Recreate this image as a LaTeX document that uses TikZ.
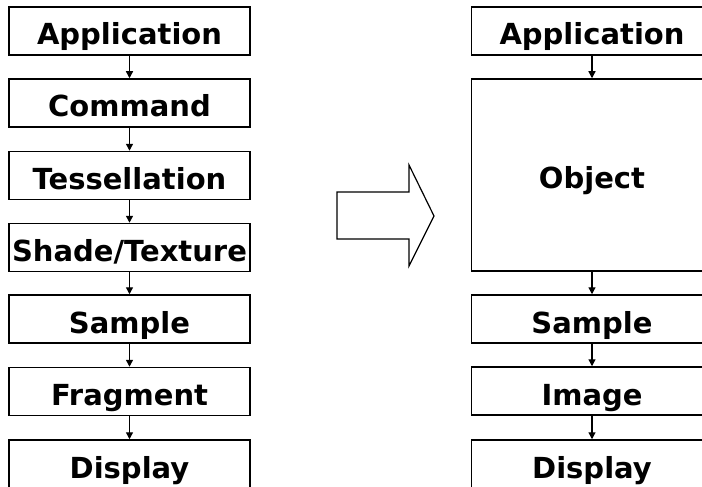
\documentclass[tikz,border=0pt]{standalone}
\usepackage{fontspec}
\setmainfont{DejaVu Sans}
\usetikzlibrary{arrows.meta}
\begin{document}
\begin{tikzpicture}[x=1pt,y=-1pt,
  stage/.style={draw,line width=1.5pt,minimum width=241pt,inner sep=0pt,
    text height=38pt,text depth=10pt,
    font=\fontsize{29}{32}\selectfont\bfseries},
  flow/.style={line width=1.3pt,-{Triangle[length=7pt,width=7pt]}}]
\useasboundingbox (0,0) rectangle (702,487);
\clip (0,0) rectangle (702,487);
% left column
\node[stage] (a1) at (129.5,31) {Application};
\node[stage] (a2) at (129.5,103) {Command};
\node[stage] (a3) at (129.5,175.5) {Tessellation};
\node[stage] (a4) at (129.5,247.5) {Shade/Texture};
\node[stage] (a5) at (129.5,319) {Sample};
\node[stage] (a6) at (129.5,391.5) {Fragment};
\node[stage] (a7) at (129.5,464) {Display};
\foreach \i/\j in {a1/a2,a2/a3,a3/a4,a4/a5,a5/a6,a6/a7}
  \draw[flow] (\i.south) -- (\j.north);
% right column
\node[stage] (b1) at (592,31) {Application};
\node[stage,text height=109pt,text depth=83pt] (b2) at (592,175) {Object};
\node[stage] (b3) at (592,319) {Sample};
\node[stage] (b4) at (592,391) {Image};
\node[stage] (b5) at (592,464) {Display};
\foreach \i/\j in {b1/b2,b2/b3,b3/b4,b4/b5}
  \draw[flow] (\i.south) -- (\j.north);
% block arrow
\draw[line width=1.2pt,line join=miter]
  (337,192) -- (409,192) -- (409,165) -- (434,216) -- (409,266) -- (409,239) -- (337,239) -- cycle;
\end{tikzpicture}
\end{document}
